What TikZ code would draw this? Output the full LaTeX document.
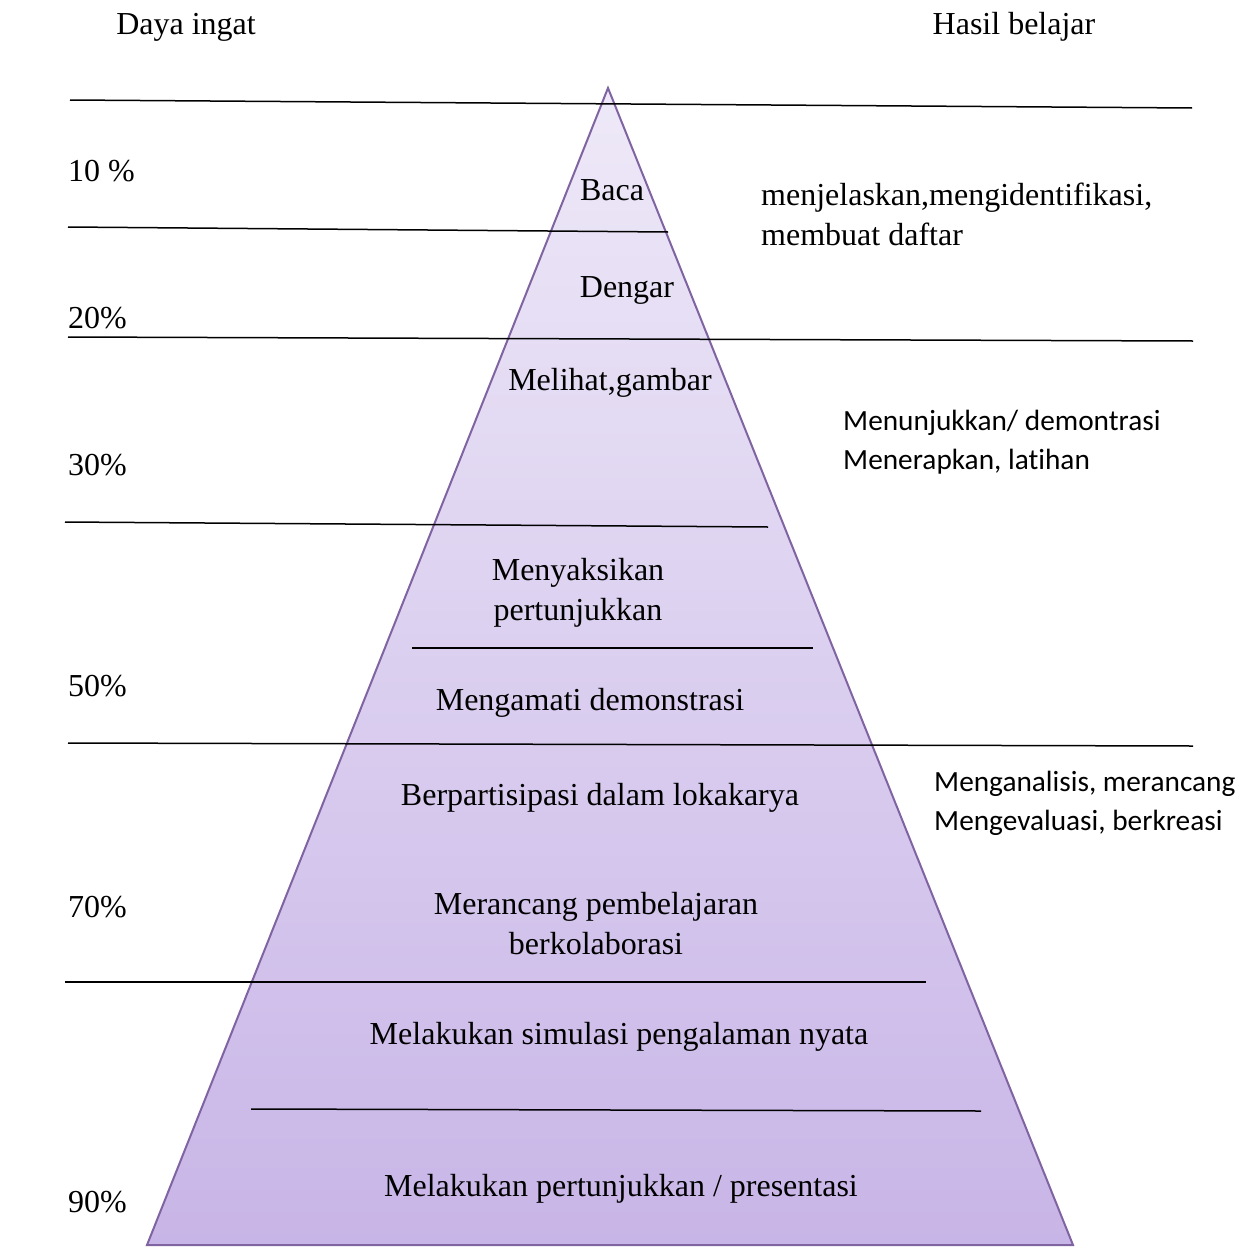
\documentclass[tikz,border=0pt]{standalone}
\usepackage{fontspec}
\setmainfont{Liberation Serif}
\newfontfamily\calib[RawFeature={-liga}]{Carlito}
\definecolor{pyrtop}{HTML}{EEE9F8}
\definecolor{pyrbot}{HTML}{C8B5E7}
\definecolor{pyredge}{HTML}{8064A2}
\tikzset{
  lbl/.style={inner sep=0pt, yshift=-3pt, font=\fontsize{32}{40}\selectfont},
  lbll/.style={inner sep=0pt, anchor=west, font=\fontsize{32}{40}\selectfont},
  cal/.style={inner sep=0pt, anchor=north west, align=left, font=\calib\fontsize{29.3}{39}\selectfont},
  tms/.style={inner sep=0pt, anchor=north west, align=left, font=\fontsize{32}{40}\selectfont},
  sep/.style={line width=1.5pt, black},
}
\begin{document}
\begin{tikzpicture}[x=1pt,y=-1pt]
\useasboundingbox (0,0) rectangle (1252,1247);
% pyramid
\shade[top color=pyrtop, bottom color=pyrbot] (608,88) -- (1073,1245) -- (147,1245) -- cycle;
\draw[pyredge, line width=2pt, line join=miter] (608,88) -- (1073,1245) -- (147,1245) -- cycle;
% separator lines
\draw[sep] (70,100) -- (1192,108);
\draw[sep] (68,227) -- (668,232);
\draw[sep] (68,337) -- (1193,341);
\draw[sep] (65,522) -- (768,527);
\draw[sep] (412,648) -- (813,648);
\draw[sep] (68,743) -- (1193,746);
\draw[sep] (65,982) -- (926,982);
\draw[sep] (251,1109) -- (981,1111);
% headers
\node[lbl] (daya) at (186,24) {Daya ingat};
\node[lbl] (hasil) at (1014,24) {Hasil belajar};
% percentages
\node[lbll] (p10) at (68,171) {10 \%};
\node[lbll] (p20) at (68,318) {20\%};
\node[lbll] (p30) at (68,465) {30\%};
\node[lbll] (p50) at (68,686) {50\%};
\node[lbll] (p70) at (68,907) {70\%};
\node[lbll] (p90) at (68,1202) {90\%};
% pyramid labels
\node[lbl] (baca) at (612,187) {Baca};
\node[lbl] (dengar) at (627,287) {Dengar};
\node[lbl] (melihat) at (610,380) {Melihat,gambar};
\node[lbl, align=center] (menyaksikan) at (578,590) {Menyaksikan\\pertunjukkan};
\node[lbl] (mengamati) at (590,700) {Mengamati demonstrasi};
\node[lbl] (berpartisipasi) at (600,795) {Berpartisipasi dalam lokakarya};
\node[lbl, align=center] (merancang) at (596,921) {Merancang pembelajaran\\berkolaborasi};
\node[lbl] (simulasi) at (619,1034) {Melakukan simulasi pengalaman nyata};
\node[lbl] (presentasi) at (621,1186) {Melakukan pertunjukkan / presentasi};
% outcomes
\node[tms] (out1) at (761,183) {menjelaskan,mengidentifikasi,\\membuat daftar};
\node[cal] (out2) at (843,410) {Menunjukkan/ demontrasi\\Menerapkan, latihan};
\node[cal] (out3) at (934,771) {Menganalisis, merancang\\Mengevaluasi, berkreasi};
\end{tikzpicture}
\end{document}
